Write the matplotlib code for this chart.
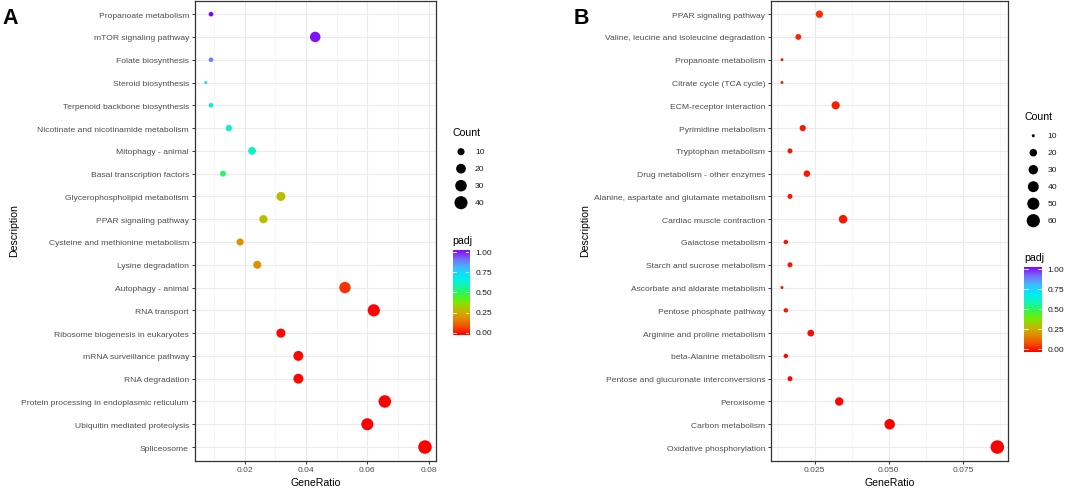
import numpy as np
import matplotlib
matplotlib.use("Agg")
import matplotlib.pyplot as plt
from matplotlib.colors import LinearSegmentedColormap

plt.rcParams['font.family'] = ['Liberation Sans', 'DejaVu Sans']

# ---- data, panel A (top to bottom) ----
terms_a = ["Propanoate metabolism", "mTOR signaling pathway", "Folate biosynthesis",
           "Steroid biosynthesis", "Terpenoid backbone biosynthesis",
           "Nicotinate and nicotinamide metabolism", "Mitophagy - animal",
           "Basal transcription factors", "Glycerophospholipid metabolism",
           "PPAR signaling pathway", "Cysteine and methionine metabolism",
           "Lysine degradation", "Autophagy - animal", "RNA transport",
           "Ribosome biogenesis in eukaryotes", "mRNA surveillance pathway",
           "RNA degradation", "Protein processing in endoplasmic reticulum",
           "Ubiquitin mediated proteolysis", "Spliceosome"]
ratio_a = [0.009, 0.043, 0.009, 0.0073, 0.009, 0.0148, 0.0224, 0.0129, 0.0318, 0.0261,
           0.0185, 0.0241, 0.0527, 0.0621, 0.0318, 0.0375, 0.0375, 0.0657, 0.060, 0.0788]
count_a = [5, 24, 5, 4, 5, 8, 12, 7, 17, 14, 10, 13, 29, 34, 17, 21, 21, 36, 33, 43]
padj_a = [1.0, 0.98, 0.86, 0.70, 0.64, 0.62, 0.60, 0.50, 0.30, 0.30,
          0.20, 0.21, 0.07, 0.005, 0.01, 0.01, 0.01, 0.0, 0.0, 0.0]

# ---- data, panel B (top to bottom) ----
terms_b = ["PPAR signaling pathway", "Valine, leucine and isoleucine degradation",
           "Propanoate metabolism", "Citrate cycle (TCA cycle)", "ECM-receptor interaction",
           "Pyrimidine metabolism", "Tryptophan metabolism", "Drug metabolism - other enzymes",
           "Alanine, aspartate and glutamate metabolism", "Cardiac muscle contraction",
           "Galactose metabolism", "Starch and sucrose metabolism",
           "Ascorbate and aldarate metabolism", "Pentose phosphate pathway",
           "Arginine and proline metabolism", "beta-Alanine metabolism",
           "Pentose and glucuronate interconversions", "Peroxisome", "Carbon metabolism",
           "Oxidative phosphorylation"]
ratio_b = [0.0266, 0.0195, 0.014, 0.014, 0.0321, 0.021, 0.0167, 0.0224, 0.0167, 0.0346,
           0.0153, 0.0167, 0.014, 0.0153, 0.0237, 0.0153, 0.0167, 0.0333, 0.0503, 0.0866]
count_b = [19, 14, 10, 10, 23, 15, 12, 16, 12, 25, 11, 12, 10, 11, 17, 11, 12, 24, 37, 63]
padj_b = [0.06, 0.045, 0.04, 0.04, 0.04, 0.035, 0.03, 0.03, 0.03, 0.03,
          0.025, 0.025, 0.02, 0.02, 0.015, 0.01, 0.01, 0.005, 0.0, 0.0]

ticks_a = [0.02, 0.04, 0.06, 0.08]
ticklabels_a = ["0.02", "0.04", "0.06", "0.08"]
ticks_b = [0.025, 0.050, 0.075]
ticklabels_b = ["0.025", "0.050", "0.075"]
legend_counts_a = [10, 20, 30, 40]
legend_counts_b = [10, 20, 30, 40, 50, 60]
bar_ticks = [0.0, 0.25, 0.5, 0.75, 1.0]
bar_labels = ["0.00", "0.25", "0.50", "0.75", "1.00"]

cmap = LinearSegmentedColormap.from_list("padj", [
    (0.00, "#FF0000"), (0.10, "#F45000"), (0.20, "#DE9000"), (0.28, "#C4B600"),
    (0.38, "#7CE800"), (0.48, "#30F848"), (0.58, "#10F4B8"), (0.68, "#00ECF6"),
    (0.78, "#3CBEFF"), (0.88, "#7474FA"), (1.00, "#8000FF")])

W, H = 1065, 489
fig = plt.figure(figsize=(W / 100, H / 100), dpi=100)


def px_rect(l, t, r, b):
    return [l / W, 1 - b / H, (r - l) / W, (b - t) / H]


def size_px(c, cmin, cmax):
    # ggplot-like area scale: diameter from ~3 px to ~13.5 px
    d = 3 + 10.5 * np.sqrt((np.asarray(c, float) - cmin) / (cmax - cmin))
    return (d * 0.72) ** 2


def panel(rect, terms, ratio, count, padj, ticks, ticklabels, xlim, minors):
    ax = fig.add_axes(rect)
    y = np.arange(len(terms))
    ax.scatter(ratio, y, s=size_px(count, min(count), max(count)), c=padj, cmap=cmap,
               vmin=0, vmax=1, linewidths=0, zorder=3)
    ax.set_ylim(len(terms) - 0.4, -0.6)
    ax.set_xlim(*xlim)
    ax.set_yticks(y)
    ax.set_yticklabels(terms)
    ax.set_xticks(ticks)
    ax.set_xticklabels(ticklabels)
    ax.set_xticks(minors, minor=True)
    ax.grid(True, which="major", color="#EBEBEB", lw=0.8, zorder=0)
    ax.grid(True, which="minor", axis="x", color="#F2F2F2", lw=0.5, zorder=0)
    ax.set_axisbelow(True)
    ax.tick_params(which="major", length=2.5, width=0.7, color="#333333",
                   labelsize=6.1, labelcolor="#4D4D4D", pad=1.5)
    ax.tick_params(which="minor", length=0)
    for sp in ax.spines.values():
        sp.set_color("#333333")
        sp.set_linewidth(0.9)
    return ax


panel(px_rect(194.5, 1.5, 436, 461.7), terms_a, ratio_a, count_a, padj_a,
      ticks_a, ticklabels_a, (0.00362, 0.0824), [0.01, 0.03, 0.05, 0.07])
panel(px_rect(771, 1.5, 1008.3, 461.7), terms_b, ratio_b, count_b, padj_b,
      ticks_b, ticklabels_b, (0.0103, 0.0903), [0.0125, 0.0375, 0.0625, 0.0875])

# overlay in pixel space for titles and legends
ov = fig.add_axes([0, 0, 1, 1], zorder=5)
ov.set_xlim(0, W)
ov.set_ylim(H, 0)
ov.axis("off")

for x, letter in [(2.5, "A"), (574, "B")]:
    ov.text(x, 18, letter, fontsize=15.5, fontweight="bold", ha="left", va="center")
for x in [14, 585]:
    ov.text(x, 231, "Description", fontsize=7.6, rotation=90, ha="center", va="center")
for x in [315.3, 889.7]:
    ov.text(x, 483, "GeneRatio", fontsize=7.6, ha="center", va="center")


def count_legend(x0, ty, y0, counts, cmin, cmax):
    ov.text(x0 - 8.5, ty, "Count", fontsize=7.6, ha="left", va="center")
    ys = y0 + 17 * np.arange(len(counts))
    ov.scatter([x0] * len(counts), ys, s=size_px(counts, cmin, cmax), c="black",
               linewidths=0)
    for yy, c in zip(ys, counts):
        ov.text(x0 + 14, yy, str(c), fontsize=6.1, color="#1A1A1A", ha="left", va="center")


def color_legend(l, t, r, b):
    ov.text(l, t - 10, "padj", fontsize=7.6, ha="left", va="center")
    cax = fig.add_axes(px_rect(l, t, r, b), zorder=6)
    grad = np.linspace(0, 1, 200).reshape(-1, 1)
    cax.imshow(grad, aspect="auto", cmap=cmap, origin="lower", extent=(0, 1, -0.035, 1.035))
    cax.set_xlim(0, 1)
    cax.set_ylim(-0.035, 1.035)
    for v in bar_ticks:
        cax.plot([0, 0.2], [v, v], color="white", lw=0.6)
        cax.plot([0.8, 1], [v, v], color="white", lw=0.6)
    cax.axis("off")
    for v, lab in zip(bar_ticks, bar_labels):
        yy = b - 3 - v * (b - t - 6)
        ov.text(r + 6, yy, lab, fontsize=6.1, color="#1A1A1A", ha="left", va="center")


count_legend(461, 133.3, 152.7, legend_counts_a, min(count_a), max(count_a))
color_legend(452.7, 250.5, 469.3, 336.5)
count_legend(1033.3, 116.7, 136.7, legend_counts_b, min(count_b), max(count_b))
color_legend(1024.3, 267.7, 1041.7, 353)

fig.savefig("out.png", dpi=100)
